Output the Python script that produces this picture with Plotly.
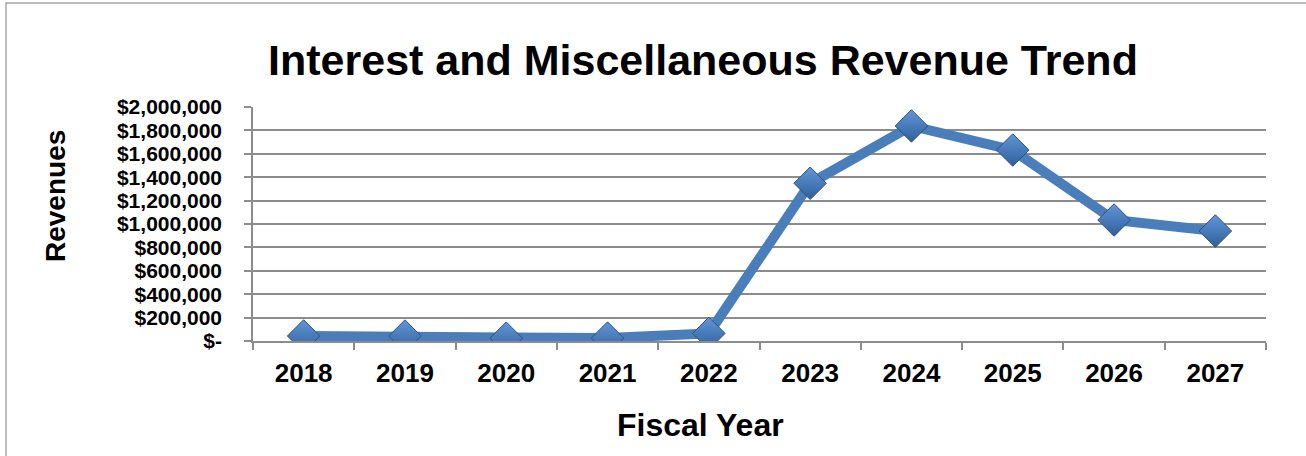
import plotly.graph_objects as go

# Interest and miscellaneous revenue by fiscal year
years = ["2018", "2019", "2020", "2021", "2022", "2023", "2024", "2025", "2026", "2027"]
revenues = [43000, 42000, 24000, 25000, 65000, 1348000, 1838000, 1632000, 1034000, 940000]

y_tickvals = [0, 200000, 400000, 600000, 800000, 1000000, 1200000, 1400000,
              1600000, 1800000, 2000000]
y_ticktext = ["$-", "$200,000", "$400,000", "$600,000", "$800,000", "$1,000,000",
              "$1,200,000", "$1,400,000", "$1,600,000", "$1,800,000", "$2,000,000"]

FONT = "Liberation Sans, Arial, sans-serif"
LINE_BLUE = "#4a7ebb"
GRID = "#8c8c8c"

fig = go.Figure()
fig.add_trace(go.Scatter(
    x=years,
    y=revenues,
    mode="lines+markers",
    line=dict(color=LINE_BLUE, width=10),
    marker=dict(
        symbol="diamond",
        size=25,
        color="#6296d8",
        line=dict(color="#2c5282", width=1),
        gradient=dict(type="vertical", color="#2f5f9c"),
    ),
    showlegend=False,
    hoverinfo="x+y",
))

fig.update_layout(
    width=1306,
    height=456,
    paper_bgcolor="white",
    plot_bgcolor="white",
    margin=dict(l=253, r=40, t=107, b=115),
    font=dict(family=FONT, color="black"),
    title=dict(
        text="<b>Interest and Miscellaneous Revenue Trend</b>",
        font=dict(size=43, family=FONT, color="black"),
        x=703 / 1306, xref="container", xanchor="center",
        y=1 - 60 / 456, yref="container", yanchor="middle",
    ),
    xaxis=dict(
        type="category",
        range=[-0.5, len(years) - 0.5],
        tickson="boundaries",
        ticks="outside",
        ticklen=7,
        tickwidth=1.5,
        tickcolor=GRID,
        showline=True,
        linecolor=GRID,
        linewidth=1.5,
        showgrid=False,
        tickfont=dict(size=26, family=FONT, color="black", weight="bold"),
        ticklabelstandoff=8,
    ),
    yaxis=dict(
        range=[0, 2000000],
        tickvals=y_tickvals,
        ticktext=y_ticktext,
        ticks="outside",
        ticklen=7,
        tickwidth=1.5,
        tickcolor=GRID,
        showline=True,
        linecolor=GRID,
        linewidth=1.5,
        showgrid=True,
        gridcolor=GRID,
        gridwidth=1.5,
        zeroline=False,
        tickfont=dict(size=21, family=FONT, color="black", weight="bold"),
        ticklabelstandoff=18,
    ),
    annotations=[
        dict(text="<b>Revenues</b>", textangle=-90, xref="paper", yref="paper",
             x=(55 - 253) / 1013, y=(341 - 196) / 234, xanchor="center", yanchor="middle",
             showarrow=False, font=dict(size=28, family=FONT, color="black")),
        dict(text="<b>Fiscal Year</b>", xref="paper", yref="paper",
             x=(700 - 253) / 1013, y=(341 - 425) / 234, xanchor="center", yanchor="middle",
             showarrow=False, font=dict(size=32, family=FONT, color="black")),
    ],
    shapes=[
        # outer chart frame (left and top edges are within view)
        dict(type="rect", xref="paper", yref="paper",
             x0=(6 - 253) / 1013, x1=(1320 - 253) / 1013,
             y0=(341 - 470) / 234, y1=1 + (107 - 3) / 234,
             line=dict(color="#a6a6a6", width=1.5), fillcolor="rgba(0,0,0,0)",
             layer="below"),
    ],
)

fig.write_html("out.html")
